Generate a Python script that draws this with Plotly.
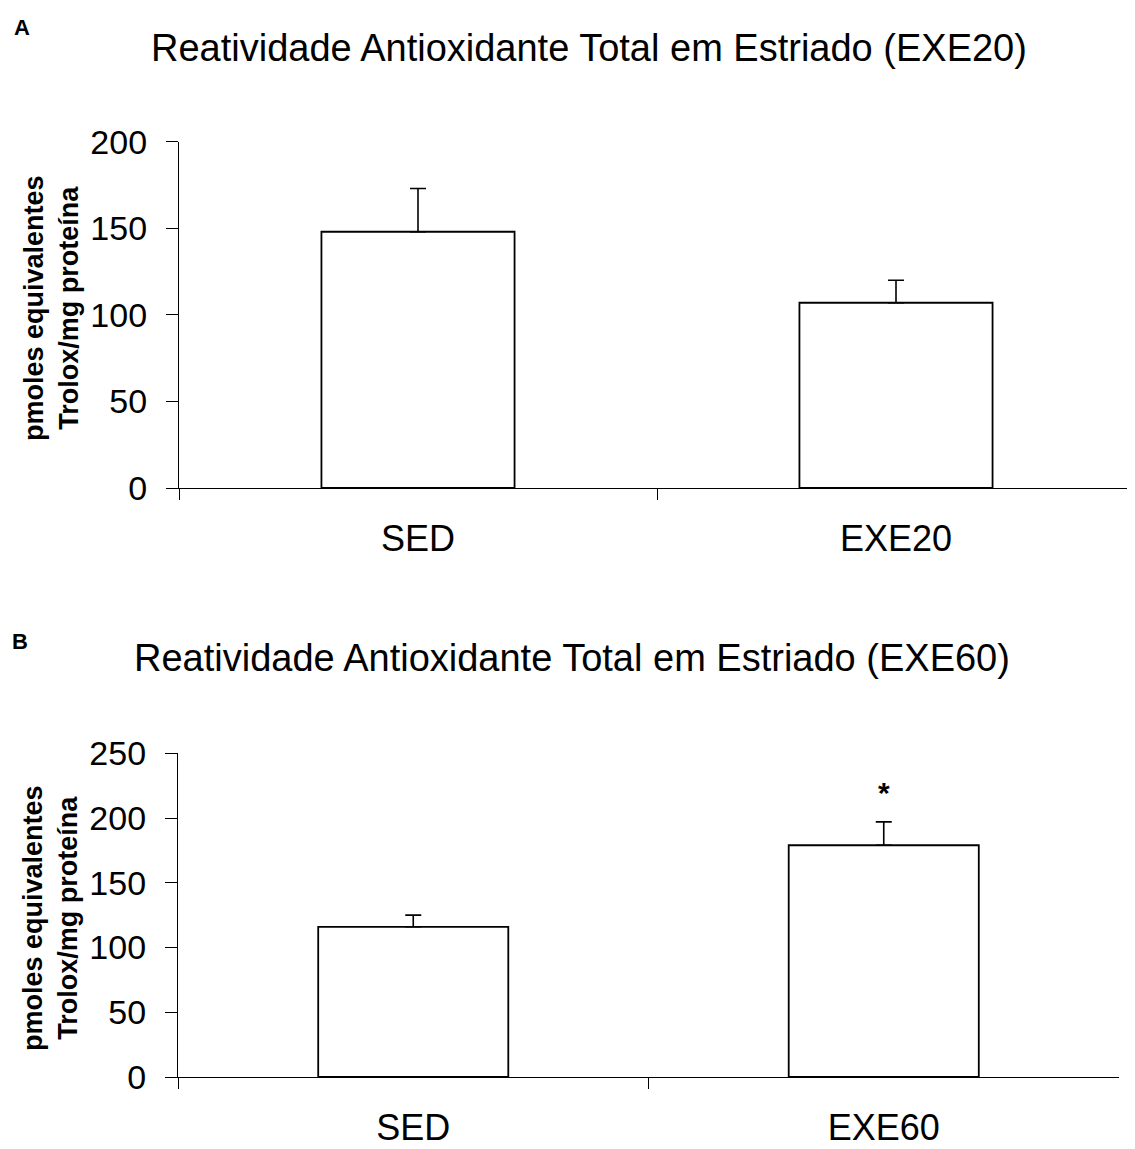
import plotly.graph_objects as go

# ---- data ----
cats_a = ["SED", "EXE20"]
vals_a = [148, 107]
err_a = [25, 13]

cats_b = ["SED", "EXE60"]
vals_b = [116, 179]
err_b = [9, 18]
sig_b = ["", "*"]

ticks_a = [0, 50, 100, 150, 200]
ticks_b = [0, 50, 100, 150, 200, 250]

title_a = "Reatividade Antioxidante Total em Estriado (EXE20)"
title_b = "Reatividade Antioxidante Total em Estriado (EXE60)"
ytitle = "pmoles equivalentes<br>Trolox/mg proteína"
panel_a = "A"
panel_b = "B"

# ---- layout geometry (pixels) ----
# the page body has an 8px margin, so the figure is 8px smaller and
# target page coordinates are shifted by 8px
OFF = 8
W, H = 1135 - OFF, 1149 - OFF
FONT = "Arial, 'Liberation Sans', sans-serif"


def px_x(x):
    return (x - OFF) / W


def px_y(y):
    return 1 - (y - OFF) / H


fig = go.Figure()

bar_style = dict(marker=dict(color="white", line=dict(color="black", width=1.8)),
                 width=0.404, showlegend=False, hoverinfo="skip")

fig.add_trace(go.Bar(x=cats_a, y=vals_a, xaxis="x", yaxis="y",
                     error_y=dict(type="data", symmetric=False, array=err_a,
                                  arrayminus=[0] * len(err_a), color="black",
                                  thickness=1.6, width=8),
                     **bar_style))
fig.add_trace(go.Bar(x=cats_b, y=vals_b, xaxis="x2", yaxis="y2",
                     error_y=dict(type="data", symmetric=False, array=err_b,
                                  arrayminus=[0] * len(err_b), color="black",
                                  thickness=1.6, width=8),
                     **bar_style))

xcommon = dict(type="category", showline=True, linecolor="black", linewidth=1.2,
               ticks="outside", tickson="boundaries", ticklen=11, tickwidth=1,
               tickcolor="black", showgrid=False, zeroline=False, automargin=False,
               tickfont=dict(family=FONT, size=36, color="black"),
               ticklabelstandoff=19, fixedrange=True)
ycommon = dict(showline=True, linecolor="black", linewidth=1.2, ticks="outside",
               ticklen=12, tickwidth=1, tickcolor="black", showgrid=False,
               zeroline=False, automargin=False,
               tickfont=dict(family=FONT, size=34, color="black"),
               ticklabelstandoff=12, fixedrange=True)

fig.update_layout(
    width=W, height=H,
    margin=dict(l=0, r=0, t=0, b=0, pad=0, autoexpand=False),
    paper_bgcolor="white", plot_bgcolor="white",
    bargap=0.596,
    xaxis=dict(domain=[px_x(179), 1.0], anchor="y", **xcommon),
    yaxis=dict(domain=[px_y(488), px_y(141.7)], anchor="x", range=[0, 200],
               tickvals=ticks_a, **ycommon),
    xaxis2=dict(domain=[px_x(178), px_x(1119)], anchor="y2", **xcommon),
    yaxis2=dict(domain=[px_y(1077), px_y(753.3)], anchor="x2", range=[0, 250],
                tickvals=ticks_b, **ycommon),
)

annotations = [
    dict(text=title_a, x=px_x(589), y=px_y(48), xref="paper", yref="paper",
         xanchor="center", yanchor="middle", showarrow=False,
         font=dict(family=FONT, size=38, color="black")),
    dict(text=title_b, x=px_x(572), y=px_y(658), xref="paper", yref="paper",
         xanchor="center", yanchor="middle", showarrow=False,
         font=dict(family=FONT, size=38, color="black")),
    dict(text="<b>" + panel_a + "</b>", x=px_x(22), y=px_y(27), xref="paper", yref="paper",
         xanchor="center", yanchor="middle", showarrow=False,
         font=dict(family=FONT, size=22, color="black")),
    dict(text="<b>" + panel_b + "</b>", x=px_x(20), y=px_y(641), xref="paper", yref="paper",
         xanchor="center", yanchor="middle", showarrow=False,
         font=dict(family=FONT, size=22, color="black")),
    dict(text="<b>" + ytitle + "</b>", x=px_x(51), y=px_y(308), xref="paper", yref="paper",
         xanchor="center", yanchor="middle", showarrow=False, textangle=-90,
         font=dict(family=FONT, size=27, color="black")),
    dict(text="<b>" + ytitle + "</b>", x=px_x(51), y=px_y(918), xref="paper", yref="paper",
         xanchor="center", yanchor="middle", showarrow=False, textangle=-90,
         font=dict(family=FONT, size=27, color="black")),
]
for c, v, e, s in zip(cats_b, vals_b, err_b, sig_b):
    if s:
        annotations.append(dict(text="<b>" + s + "</b>", x=c, y=v + e, xref="x2", yref="y2",
                                xanchor="center", yanchor="bottom", yshift=11,
                                showarrow=False,
                                font=dict(family=FONT, size=30, color="black")))
fig.update_layout(annotations=annotations)

fig.write_html("out.html")
